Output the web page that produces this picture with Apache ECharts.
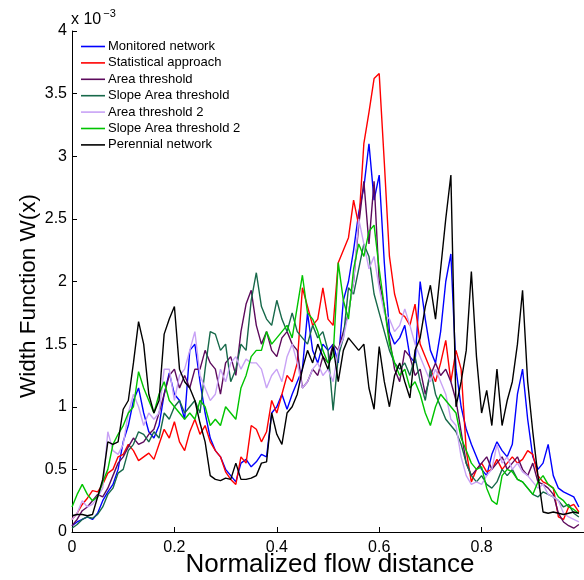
<!DOCTYPE html>
<html>
<head>
<meta charset="utf-8">
<script src="https://cdn.jsdelivr.net/npm/echarts@6/dist/echarts.min.js"></script>
<style>html,body{margin:0;padding:0;background:#fff}#c{width:584px;height:580px}</style>
</head>
<body>
<div id="c"></div>
<script>
// Normalized flow distance samples
const distance = [0.00,0.01,0.02,0.03,0.04,0.05,0.06,0.07,0.08,0.09,0.10,0.11,0.12,0.13,0.14,0.15,0.16,0.17,0.18,0.19,
0.20,0.21,0.22,0.23,0.24,0.25,0.26,0.27,0.28,0.29,0.30,0.31,0.32,0.33,0.34,0.35,0.36,0.37,0.38,0.39,
0.40,0.41,0.42,0.43,0.44,0.45,0.46,0.47,0.48,0.49,0.50,0.51,0.52,0.53,0.54,0.55,0.56,0.57,0.58,0.59,
0.60,0.61,0.62,0.63,0.64,0.65,0.66,0.67,0.68,0.69,0.70,0.71,0.72,0.73,0.74,0.75,0.76,0.77,0.78,0.79,
0.80,0.81,0.82,0.83,0.84,0.85,0.86,0.87,0.88,0.89,0.90,0.91,0.92,0.93,0.94,0.95,0.96,0.97,0.98,0.99];

// Width function values (x 10^-3)
const monitored = [0.05,0.08,0.10,0.12,0.10,0.15,0.25,0.32,0.38,0.50,0.72,0.85,1.05,1.15,0.95,0.80,0.75,0.85,1.10,1.27,
1.10,1.05,0.90,1.45,1.50,1.20,0.95,0.75,0.65,0.60,0.50,0.45,0.40,0.55,0.58,0.52,0.56,0.62,0.60,0.95,
1.00,1.10,0.98,1.10,1.20,1.30,1.75,1.45,1.35,1.50,1.45,1.50,1.35,1.85,2.00,2.25,2.55,2.75,3.10,2.65,
2.85,2.15,1.60,1.50,1.55,1.65,1.40,1.35,2.00,1.70,1.45,1.35,1.60,2.00,2.22,1.30,1.00,0.82,0.70,0.60,
0.50,0.45,0.62,0.72,0.65,0.60,0.70,1.10,1.30,0.90,0.60,0.50,0.55,0.70,0.45,0.35,0.32,0.30,0.28,0.20];

const statistical = [0.10,0.15,0.22,0.27,0.33,0.32,0.38,0.47,0.50,0.60,0.62,0.70,0.65,0.57,0.60,0.63,0.58,0.70,0.82,0.75,
0.88,0.72,0.65,0.80,0.90,0.78,0.85,0.72,0.65,0.60,0.48,0.42,0.38,0.60,0.55,0.85,0.82,0.72,0.80,1.05,
0.95,1.10,1.25,1.20,1.35,1.95,1.80,1.65,1.70,1.95,1.70,1.65,2.15,2.25,2.35,2.65,2.45,3.10,3.35,3.62,
3.66,2.95,2.20,1.90,1.75,1.72,1.65,1.82,1.50,1.40,1.30,1.20,1.35,1.53,1.20,1.45,1.30,0.65,0.40,0.50,
0.55,0.48,0.50,0.58,0.50,0.55,0.60,0.55,0.58,0.65,0.62,0.45,0.40,0.38,0.35,0.12,0.10,0.20,0.22,0.16];

const areaThreshold = [0.05,0.10,0.17,0.20,0.25,0.30,0.28,0.35,0.45,0.55,0.60,0.68,0.75,0.70,0.72,0.78,0.82,0.95,1.10,1.25,
1.30,1.15,1.25,1.15,1.30,1.30,1.45,1.35,1.30,1.10,1.35,1.40,1.25,1.60,1.82,1.93,1.65,1.50,1.60,1.45,
1.40,1.55,1.60,1.50,1.45,1.15,1.20,1.30,1.25,1.40,1.35,1.50,1.45,1.60,1.75,2.00,2.45,2.80,2.30,2.80,
2.00,1.80,1.55,1.30,1.20,1.45,1.40,1.25,1.30,1.10,1.25,1.35,1.25,1.30,1.20,1.05,0.80,0.55,0.45,0.50,
0.55,0.60,0.50,0.55,0.60,0.50,0.55,0.60,0.50,0.45,0.55,0.40,0.38,0.35,0.30,0.15,0.08,0.05,0.03,0.06];

const slopeAreaThreshold = [0.03,0.06,0.10,0.12,0.11,0.14,0.20,0.30,0.35,0.47,0.50,0.65,0.70,0.80,0.78,0.72,0.80,0.75,0.95,0.90,
1.00,1.05,0.95,1.00,1.05,0.95,1.30,1.60,1.58,1.45,1.50,1.20,1.30,1.50,1.45,1.85,2.07,1.80,1.70,1.65,
1.85,1.70,1.60,1.75,1.60,1.55,1.50,1.65,1.55,1.60,1.45,0.97,1.40,1.55,1.95,1.90,2.10,2.30,2.20,1.90,
1.75,1.60,1.45,1.35,1.30,1.35,1.25,1.40,1.20,1.05,1.30,1.10,1.00,0.90,0.85,0.80,0.70,0.55,0.45,0.40,
0.45,0.38,0.35,0.40,0.50,0.45,0.50,0.42,0.40,0.35,0.30,0.28,0.32,0.30,0.28,0.25,0.20,0.22,0.15,0.12];

const areaThreshold2 = [0.10,0.15,0.25,0.20,0.22,0.28,0.35,0.80,0.65,0.62,0.70,0.95,1.10,1.00,0.85,0.95,0.90,0.95,1.30,1.30,
1.05,1.25,1.30,1.45,1.60,1.25,1.15,1.05,1.10,1.30,1.20,1.35,1.40,1.30,1.38,1.35,1.35,1.30,1.15,1.25,
1.30,1.20,1.40,1.50,1.35,1.15,1.20,1.30,1.35,1.25,1.30,1.20,1.45,1.55,1.75,2.00,2.50,2.30,2.10,2.20,
1.95,1.75,1.70,1.60,1.65,1.78,1.65,1.50,1.40,1.30,1.20,1.30,1.20,1.10,0.90,0.85,0.60,0.45,0.38,0.40,
0.38,0.45,0.50,0.70,0.55,0.60,0.50,0.55,0.48,0.45,0.40,0.35,0.38,0.30,0.28,0.25,0.15,0.12,0.10,0.08];

const slopeAreaThreshold2 = [0.20,0.30,0.38,0.30,0.25,0.28,0.40,0.50,0.70,0.78,0.85,0.95,1.00,1.28,1.15,1.05,0.95,1.10,1.20,1.05,
1.00,0.95,0.90,0.95,0.90,1.05,1.00,0.85,0.90,0.85,1.00,0.95,0.90,1.15,1.25,1.40,1.45,1.45,1.60,1.50,
1.55,1.60,1.65,1.55,1.80,2.05,1.75,1.70,1.60,1.45,1.35,1.40,2.15,1.85,1.70,2.10,2.30,2.20,2.40,2.45,
2.10,1.80,1.50,1.35,1.25,1.30,1.15,1.20,1.10,0.95,0.85,1.00,1.10,1.05,1.00,0.95,0.75,0.65,0.55,0.50,
0.52,0.35,0.25,0.22,0.45,0.50,0.48,0.42,0.40,0.35,0.30,0.40,0.45,0.38,0.35,0.28,0.25,0.20,0.18,0.15];

const perennial = [0.13,0.14,0.14,0.13,0.14,0.28,0.42,0.72,0.70,0.72,0.98,1.05,1.35,1.68,1.50,1.10,0.95,1.05,1.58,1.70,
1.80,1.30,1.20,1.15,1.05,0.87,0.72,0.45,0.42,0.41,0.43,0.42,0.55,0.42,0.42,0.43,0.45,0.55,0.56,0.95,
0.78,0.70,0.95,1.00,1.10,1.30,1.45,1.35,1.50,1.40,1.30,1.48,1.20,1.45,1.55,1.50,1.45,1.50,1.15,0.98,
1.48,1.20,1.00,1.25,1.35,1.20,1.07,1.45,1.55,1.80,1.97,1.70,2.10,2.50,2.85,1.00,1.20,1.45,2.08,1.40,
0.95,1.13,0.85,1.30,0.85,1.05,1.20,1.50,1.93,1.20,0.80,0.45,0.16,0.15,0.16,0.15,0.14,0.15,0.16,0.15];

const seriesNames = ['Monitored network','Statistical approach','Area threshold','Slope Area threshold','Area threshold 2','Slope Area threshold 2','Perennial network'];
const seriesValues = [monitored, statistical, areaThreshold, slopeAreaThreshold, areaThreshold2, slopeAreaThreshold2, perennial];
const seriesColors = ['#0000ff','#ff0000','#5c0a5c','#17694a','#c8a2f5','#00c400','#000000'];

const chart = echarts.init(document.getElementById('c'), null, {renderer:'canvas'});
const FONT = 'Liberation Sans, Arial, Helvetica, sans-serif';

const series = seriesNames.map((name, k) => ({
  name: name,
  type: 'line',
  data: distance.map((x, i) => [x, seriesValues[k][i]]),
  symbol: 'none',
  showSymbol: false,
  lineStyle: {color: seriesColors[k], width: 1.4},
  itemStyle: {color: seriesColors[k]},
  emphasis: {disabled: true},
  animation: false,
  z: 2 + k
}));

chart.setOption({
  animation: false,
  backgroundColor: '#fff',
  grid: {left: 72, top: 31, right: -2, bottom: 48, containLabel: false},
  xAxis: {
    type: 'value', min: 0, max: 1, interval: 0.2,
    axisLine: {show: true, onZero: false, lineStyle: {color: '#000', width: 1}},
    axisTick: {show: true, inside: true, length: 5, lineStyle: {color: '#000'}},
    axisLabel: {color: '#000', fontSize: 16, fontFamily: FONT, margin: 8, showMaxLabel: false,
      formatter: v => (Math.round(v*10)/10).toString()},
    splitLine: {show: false}
  },
  yAxis: {
    type: 'value', min: 0, max: 4, interval: 0.5,
    axisLine: {show: true, onZero: false, lineStyle: {color: '#000', width: 1}},
    axisTick: {show: true, inside: true, length: 5, lineStyle: {color: '#000'}},
    axisLabel: {color: '#000', fontSize: 16, fontFamily: FONT, margin: 5,
      formatter: v => (Math.round(v*10)/10).toString()},
    splitLine: {show: false}
  },
  legend: {
    orient: 'vertical', left: 76, top: 35,
    itemWidth: 24, itemHeight: 16, itemGap: 3.4,
    icon: 'path://M0,7.2 L24,7.2 L24,8.8 L0,8.8 Z',
    textStyle: {color: '#000', fontSize: 13, fontFamily: FONT, padding: [0,0,0,-2]},
    data: seriesNames.map((n, k) => ({name: n, itemStyle: {color: seriesColors[k]}})),
    selectedMode: false
  },
  graphic: [
    {type: 'text', left: 71, top: 8, style: {
      text: '{a|x 10}{b|−3}', fill: '#000',
      rich: {a: {fontSize: 16, fontFamily: FONT, verticalAlign: 'bottom'}, b: {fontSize: 11, fontFamily: FONT, verticalAlign: 'top', padding: [0,0,9,2]}}
    }},
    {type: 'text', x: 330, y: 565, style: {text: 'Normalized flow distance', fill: '#000', fontSize: 26, fontFamily: FONT, align: 'center', verticalAlign: 'middle'}},
    {type: 'text', x: 29, y: 296, rotation: Math.PI/2, style: {text: 'Width Function W(x)', fill: '#000', fontSize: 22.5, fontFamily: FONT, align: 'center', verticalAlign: 'middle'}}
  ],
  series: series
});
</script>
</body>
</html>
